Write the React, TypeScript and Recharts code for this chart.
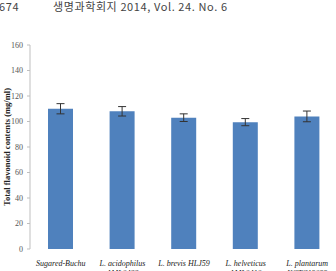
import React from "react";
import { BarChart, Bar, XAxis, YAxis, ErrorBar } from "recharts";

const categories = [
  "Sugared-Buchu",
  "L. acidophilus\nAML0422",
  "L. brevis HLJ59",
  "L. helveticus\nAML0410",
  "L. plantarum\nKCTC13093",
];
const values = [110, 108, 103, 99.5, 104];
const errors = [4, 3.7, 3, 2.8, 4.2];
const yTicks = [0, 20, 40, 60, 80, 100, 120, 140, 160];
const boundaryTicks = [0, 1, 2, 3, 4, 5];
const pageNumber = "674";
const journalHeader = "생명과학회지 2014, Vol. 24. No. 6";

const data = categories.map((name, i) => ({ name, value: values[i], err: errors[i] }));

const CatTick = (props: any) => {
  const { x, y, payload } = props;
  const lines = String(payload.value).split("\n");
  return (
    <text
      x={x}
      y={y}
      textAnchor="middle"
      fontFamily="'Liberation Serif', serif"
      fontStyle="italic"
      fontSize={8}
      fill="#222"
    >
      {lines.map((l, i) => (
        <tspan key={i} x={x} dy={i === 0 ? 17 : 10}>
          {l}
        </tspan>
      ))}
    </text>
  );
};

const headerStyle: React.CSSProperties = {
  position: "absolute",
  top: 0,
  fontFamily: "'Noto Sans CJK KR', 'Noto Sans', sans-serif",
  fontSize: 11,
  color: "#444",
  whiteSpace: "pre",
  lineHeight: "13px",
  letterSpacing: 0.6,
};

export default function App() {
  return (
    <div
      style={{
        position: "fixed",
        left: 0,
        top: 0,
        width: 336,
        height: 271,
        overflow: "hidden",
        background: "#fff",
      }}
    >
      <div style={{ ...headerStyle, left: -1 }}>{pageNumber}</div>
      <div style={{ ...headerStyle, left: 53 }}>{journalHeader}</div>
      <BarChart
        width={338}
        height={271}
        data={data}
        margin={{ top: 45, right: 0, bottom: 0, left: 0 }}
      >
        <XAxis
          xAxisId="bounds"
          type="number"
          domain={[0, 5]}
          ticks={boundaryTicks}
          tick={false}
          height={0}
          stroke="#bfbfbf"
          tickSize={4}
          allowDataOverflow
        />
        <XAxis
          dataKey="name"
          interval={0}
          tickLine={false}
          axisLine={false}
          tickSize={0}
          tickMargin={0}
          height={22}
          tick={<CatTick />}
        />
        <YAxis
          domain={[0, 160]}
          ticks={yTicks}
          width={30}
          interval={0}
          stroke="#bfbfbf"
          tickSize={3}
          tickMargin={4}
          tick={{ fontFamily: "'Liberation Serif', serif", fontSize: 8, fill: "#555" }}
          label={{
            value: "Total flavonoid contents (mg/ml)",
            angle: -90,
            position: "center",
            dx: -8,
            style: {
              fontFamily: "'Liberation Serif', serif",
              fontSize: 8.5,
              fontWeight: "bold",
              fill: "#222",
            },
          }}
        />
        <Bar dataKey="value" fill="#4F81BD" barSize={25} isAnimationActive={false}>
          <ErrorBar dataKey="err" width={4} stroke="#333" strokeWidth={1} direction="y" />
        </Bar>
      </BarChart>
    </div>
  );
}
